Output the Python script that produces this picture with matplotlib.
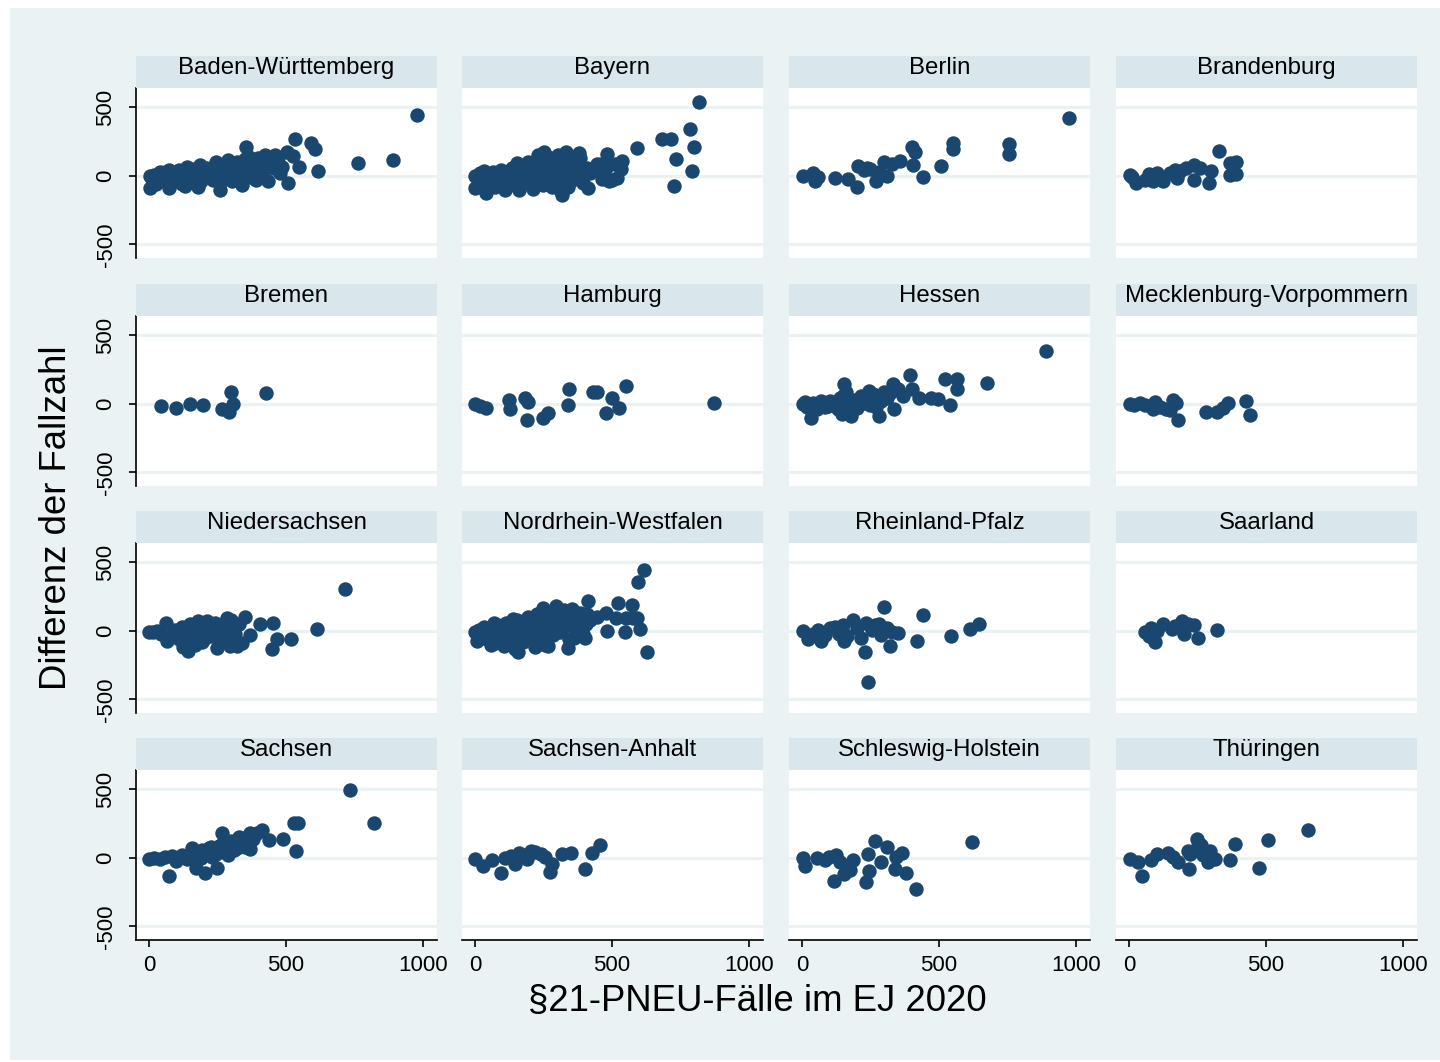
import matplotlib
matplotlib.use("Agg")
import matplotlib.pyplot as plt
from matplotlib.patches import Rectangle

plt.rcParams['font.family'] = ['Liberation Sans', 'DejaVu Sans']

states = ["Baden-Württemberg", "Bayern", "Berlin", "Brandenburg",
          "Bremen", "Hamburg", "Hessen", "Mecklenburg-Vorpommern",
          "Niedersachsen", "Nordrhein-Westfalen", "Rheinland-Pfalz", "Saarland",
          "Sachsen", "Sachsen-Anhalt", "Schleswig-Holstein", "Thüringen"]

bw_x = [977, 892, 764, 616, 606, 590, 533, 547, 509, 502, 527, 484, 478, 436, 460, 423, 399, 356, 338, 381,
        290, 245, 259, 186, 140, 74, 4, 4, 74, 131, 180,
        10, 20, 30, 40, 50, 60, 80, 90, 100, 110, 120, 130, 150, 160, 170, 190, 200, 210, 220, 230,
        240, 260, 270, 280, 300, 310, 320, 330, 340, 350, 360, 370, 390, 400, 410, 420, 440, 450, 25, 95, 205,
        35, 65, 105, 145, 175, 215, 235, 255, 285, 305, 325, 345, 365, 385, 405, 430, 455, 470]
bw_y = [445, 117, 97, 32, 195, 243, 268, 63, -54, 178, 146, 68, 24, -37, 153, 153, 129, 209, -66, -17,
        117, 105, -102, 80, 68, 44, 0, -90, -90, -73, -78,
        -20, 10, -40, 25, -10, 30, -50, 15, -30, 40, -60, 20, -20, 50, 0, -40, 30, 60, -10, 40,
        70, -50, 20, 80, 60, 10, 100, -20, 50, 120, 20, 90, -30, 70, 110, 40, 80, 100, -60, -10, 15,
        0, -20, 10, -45, 30, 0, -30, 50, 30, -40, 60, 0, 140, 30, 90, 120, 60, 130]

by_x = [818, 785, 799, 732, 791, 726, 684, 714, 590, 538, 532, 520, 489, 465, 483, 447, 410, 414, 380, 331,
        319, 252, 215, 212, 154, 160, 111, 39, 0, 32, 0,
        10, 20, 30, 45, 55, 65, 75, 85, 95, 105, 115, 125, 135, 145, 165, 175, 185, 195, 205, 225, 235,
        245, 255, 265, 275, 285, 295, 305, 315, 325, 335, 345, 355, 365, 375, 385, 395, 430, 460, 470, 500, 340, 290, 230,
        15, 40, 70, 100, 130, 155, 180, 210, 240, 270, 300, 330, 360, 390, 420, 450, 480, 510, 250, 310, 350, 280, 200]
by_y = [538, 343, 209, 122, 36, -73, 268, 268, 207, 112, 49, -12, -37, -20, 160, 85, 56, -90, 165, 178,
        -143, 178, 105, -97, 93, -102, -102, -127, -85, 36, 0,
        -30, 20, -60, 10, -40, 30, -80, 0, 40, -50, 20, -20, 60, -70, 80, 10, -30, 100, 40, -60, 120,
        -10, 70, 140, 20, -40, 90, 150, 30, -70, 120, 60, -20, 100, 10, 130, -50, 40, 90, 70, -30, -80, 50, 150,
        0, -20, 0, 10, -10, 30, -50, 60, 0, 100, 50, 0, 80, 40, 20, 80, 60, 90, -70, -100, -40, -80, -20]

be_x = [976, 755, 755, 551, 551, 401, 411, 507, 442, 358, 404, 298, 310, 271, 200, 204, 237, 169, 120, 48, 3, 40, 60, 250, 225, 280, 330]
be_y = [423, 231, 161, 238, 195, 209, 178, 75, -10, 112, 80, 105, 0, -34, -78, 73, 56, -24, -17, -34, 0, 20, -5, 50, 40, 30, 90]

bb_x = [327, 391, 368, 391, 368, 300, 292, 239, 239, 186, 170, 176, 103, 126, 73, 58, 27, 12, 5, 88, 150, 210, 260]
bb_y = [185, 104, 93, 15, 7, 32, -49, 80, -29, 39, 44, -17, 24, -41, 15, -29, -54, -5, 10, -34, 20, 55, 60]

hb_x = [44, 100, 150, 196, 266, 291, 301, 306, 427]
hb_y = [-15, -27, -2, -7, -39, -58, 90, -2, 83]

hh_x = [1, 20, 39, 126, 129, 182, 193, 190, 250, 265, 344, 341, 432, 447, 500, 477, 527, 553, 874]
hh_y = [-2, -17, -27, 27, -39, 41, 17, -117, -100, -68, 107, -7, 90, 90, 46, -68, -31, 131, 5]

he_x = [891, 676, 567, 522, 566, 540, 495, 472, 427, 396, 400, 331, 336, 283, 245, 154, 180, 147, 33, 3, 101,
        10, 20, 40, 55, 70, 85, 115, 130, 140, 160, 170, 190, 200, 215, 230, 260, 270, 300, 310, 350, 370, 150, 165,
        25, 60, 95, 125, 145, 155, 175, 185, 250, 290, 320]
he_y = [387, 156, 180, 185, 107, -10, 34, 46, 46, 209, 107, 144, -39, -88, 95, 144, -92, -75, -100, -2, 22,
        15, -25, 10, -35, 20, -20, 5, -40, 40, 90, -50, 30, -30, 60, 10, 70, -20, 90, 40, 110, 60, 60, -20,
        -10, 0, -15, 10, 0, -60, 20, -10, -10, 20, 80]

mv_x = [5, 58, 96, 88, 171, 179, 134, 282, 323, 342, 361, 428, 441, 20, 40, 115, 150, 160]
mv_y = [-2, -7, 17, -41, 10, -119, -34, -56, -63, -31, 10, 22, -83, -5, 5, -20, -45, 25]

ni_x = [717, 612, 518, 468, 448, 454, 407, 369, 351, 286, 321, 297, 249, 211, 180, 142, 67, 64, 0,
        15, 30, 45, 80, 95, 110, 120, 130, 150, 160, 170, 190, 200, 220, 230, 240, 260, 270, 280, 300, 310, 330, 340, 125, 175,
        140, 155, 185, 205, 225, 245, 265, 290, 315, 165, 195, 215]
ni_y = [304, 17, -61, -56, -129, 61, 49, -32, 102, 97, -114, -110, -122, 73, 73, -146, -73, 58, -7,
        -10, 0, -20, -40, 10, -60, 30, -90, 50, -30, -100, 20, -60, 40, -20, 60, -80, 30, -40, 80, 0, 50, -90, -120, -70,
        0, -50, -10, 10, -40, 0, -10, 20, -20, 30, -80, -10]

nw_x = [616, 595, 573, 523, 412, 409, 447, 477, 515, 553, 576, 590, 601, 482, 549, 628, 401, 341, 356, 296, 250, 265, 159, 69, 8, 0,
        15, 25, 35, 45, 55, 75, 85, 95, 105, 115, 125, 135, 145, 155, 165, 175, 185, 195, 205, 215, 225, 235, 245, 255,
        265, 275, 285, 305, 315, 325, 335, 345, 355, 365, 375, 385, 395, 405, 420, 60, 110, 140, 180, 220, 280, 320, 360,
        20, 40, 65, 90, 120, 150, 170, 200, 230, 260, 290, 310, 340, 370, 390, 100, 130, 160, 190, 210, 240, 270, 300, 330]
nw_y = [445, 358, 192, 202, 221, 122, 102, 131, 92, 92, 97, 92, 17, 0, -5, -151, -49, -122, 158, 182, 170, -110, -151, 61, -73, -7,
        10, -40, 30, -60, 20, -90, 40, -20, -110, 60, -50, 10, -130, 80, -10, -80, 50, 100, -40, 20, 120, -70, 60, -100,
        140, 30, -30, 90, 10, 150, 40, -60, 110, 70, 20, 130, -20, 50, 80, -100, -70, 90, 0, -120, 110, 60, -50,
        -20, 0, -30, 0, 30, 20, -40, 10, 70, -20, 60, -10, 100, 0, 120, -60, -20, -90, -60, 60, 20, -40, 80, 120]

rp_x = [646, 613, 545, 442, 419, 298, 351, 321, 230, 240, 185, 234, 283, 154, 71, 23, 3, 101,
        40, 60, 85, 120, 135, 150, 165, 200, 215, 255, 265, 290, 310, 330]
rp_y = [49, 17, -36, 117, -73, 175, -12, -110, -151, -372, 80, 58, 49, -73, -73, -61, 0, 24,
        -20, 10, -30, 30, -20, 40, -40, 20, -50, 10, 40, -30, 20, -10]

sl_x = [320, 251, 236, 201, 194, 156, 126, 96, 73, 58, 103, 80, 170, 215]
sl_y = [7, -54, 41, -24, 73, 17, 49, -80, -36, -7, 0, 20, 35, 50]

sn_x = [732, 823, 528, 543, 536, 488, 438, 412, 369, 266, 369, 249, 203, 74, 173, 158, 0, 83,
        20, 40, 60, 100, 120, 140, 165, 180, 195, 210, 225, 240, 255, 280, 300, 315, 330, 345, 360, 380, 395, 290, 320, 230,
        150, 170, 190, 205, 220, 245, 265, 275, 295, 310, 335, 350, 365]
sn_y = [496, 258, 253, 253, 51, 136, 131, 202, 180, 180, 63, -71, -112, -136, -71, 75, -10, 15,
        0, -10, 10, -20, 20, -10, 40, 20, 60, 30, 80, 50, 90, 60, 120, 100, 150, 110, 160, 140, 180, 20, 70, 10,
        20, -20, 0, 40, 70, 30, 100, 40, 90, 60, 120, 80, 110]

sa_x = [458, 429, 401, 352, 318, 281, 273, 205, 160, 145, 95, 31, 0, 62, 110, 130, 175, 190, 220, 240, 255]
sa_y = [92, 39, -78, 34, 27, -46, -102, 51, 39, -46, -107, -58, -5, -17, 0, 15, 20, -10, 40, 30, 10]

sh_x = [619, 415, 378, 366, 343, 339, 309, 290, 268, 242, 245, 234, 177, 154, 116, 124, 185, 56, 11, 3, 86, 140, 100]
sh_y = [117, -229, -114, 39, 10, -83, 83, -29, 124, 27, -95, -173, -90, -117, -168, 20, -17, 2, -58, 0, -17, -30, 10]

th_x = [653, 507, 386, 474, 368, 250, 262, 297, 315, 289, 217, 220, 222, 179, 141, 103, 47, 35, 5, 80, 160, 240, 270]
th_y = [202, 129, 100, -71, -17, 136, 92, 51, -5, -29, 51, -78, 27, -29, 39, 27, -131, -29, -5, -17, 10, 60, 20]

xs = [bw_x, by_x, be_x, bb_x, hb_x, hh_x, he_x, mv_x, ni_x, nw_x, rp_x, sl_x, sn_x, sa_x, sh_x, th_x]
ys = [bw_y, by_y, be_y, bb_y, hb_y, hh_y, he_y, mv_y, ni_y, nw_y, rp_y, sl_y, sn_y, sa_y, sh_y, th_y]

x_ticks = [0, 500, 1000]
y_ticks = [-500, 0, 500]

W, H = 1440, 1062
fig = plt.figure(figsize=(W / 100, H / 100), dpi=100, facecolor="white")
bg = "#EAF2F3"
fig.patches.append(Rectangle((10 / W, 2 / H), 1 - 10 / W, 1 - 10 / H, transform=fig.transFigure,
                             facecolor=bg, edgecolor="none", zorder=-10))

col_left = [136, 462, 789, 1116]
row_top = [88, 316, 543, 770]
pw, ph = 301, 170
sh_h = 32
marker_col = "#1A476F"

for i, st in enumerate(states):
    r, c = divmod(i, 4)
    l = col_left[c]
    t = row_top[r]
    ax = fig.add_axes([l / W, 1 - (t + ph) / H, pw / W, ph / H])
    ax.set_facecolor("white")
    ax.set_xlim(-47, 1051)
    ax.set_ylim(-600, 642)
    for y in y_ticks:
        ax.axhline(y, color=bg, lw=2.2, zorder=0)
    ax.scatter(xs[i], ys[i], s=108, color=marker_col, linewidths=0, zorder=3)
    for sp in ax.spines.values():
        sp.set_visible(False)
    ax.set_xticks(x_ticks)
    ax.set_yticks(y_ticks)
    if c == 0:
        ax.spines["left"].set_visible(True)
        ax.spines["left"].set_linewidth(1.2)
        ax.tick_params(axis="y", length=5, width=1.2, pad=9, labelsize=16)
        ax.set_yticklabels([str(v) for v in y_ticks], rotation=90, va="center")
    else:
        ax.tick_params(axis="y", left=False, labelleft=False)
    if r == 3:
        ax.spines["bottom"].set_visible(True)
        ax.spines["bottom"].set_linewidth(1.2)
        ax.tick_params(axis="x", length=5, width=1.2, pad=6, labelsize=16)
    else:
        ax.tick_params(axis="x", bottom=False, labelbottom=False)
    # strip
    sx = fig.add_axes([l / W, 1 - t / H, pw / W, sh_h / H])
    sx.set_facecolor("#D9E6EB")
    sx.set_xticks([]); sx.set_yticks([])
    for sp in sx.spines.values():
        sp.set_visible(False)
    sx.text(0.5, 0.62, st, ha="center", va="center", fontsize=17.3, transform=sx.transAxes)

fig.text(57 / W, 1 - 518 / H, "Differenz der Fallzahl", rotation=90, ha="center", va="center", fontsize=26.3)
fig.text(757 / W, 1 - 1002 / H, "§21-PNEU-Fälle im EJ 2020", ha="center", va="center", fontsize=26.3)

fig.savefig("out.png", dpi=100, facecolor="white")
